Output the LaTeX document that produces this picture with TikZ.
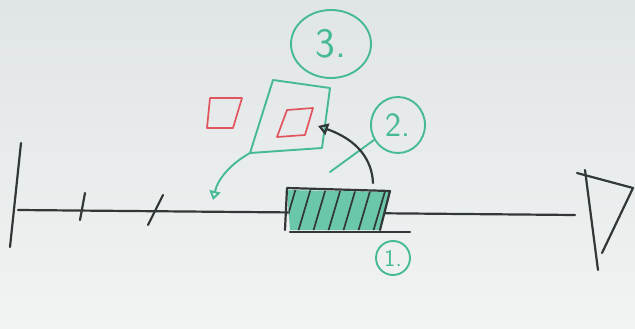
\documentclass[tikz,border=0pt]{standalone}
\usetikzlibrary{shapes.geometric,arrows.meta}
\definecolor{teal1}{RGB}{70,185,150}
\definecolor{redsq}{RGB}{225,85,95}
\definecolor{ink}{RGB}{50,55,55}
\begin{document}
\begin{tikzpicture}[x=1pt,y=-1pt,
  inkline/.style={draw=ink,line width=2.2pt,line cap=round,line join=round},
  tealline/.style={draw=teal1,line width=1.9pt,line cap=round,line join=round},
  redline/.style={draw=redsq,line width=1.7pt,line join=round},
  circ/.style={ellipse,draw=teal1,line width=1.9pt,text=teal1,font=\sffamily,inner sep=0pt}]
\shade[top color={rgb,255:red,224;green,229;blue,229},bottom color={rgb,255:red,242;green,243;blue,243}] (0,0) rectangle (635,329);
\useasboundingbox (0,0) rectangle (635,329);
% main axis
\draw[inkline] (18,210) -- (575,215);
\draw[inkline] (21,143) -- (10,247);
\draw[inkline] (85,193) -- (80,220);
\draw[inkline] (163,195) -- (148,225);
% right flag
\draw[inkline] (585,170) -- (598,270);
\draw[inkline] (577,173) -- (633,188) -- (602,253);
% hatched box
\fill[teal1!80] (287,190) -- (390,192) -- (380,230) -- (290,230) -- cycle;
\begin{scope}
\clip (287,190) -- (390,192) -- (380,230) -- (290,230) -- cycle;
\foreach \x in {283,298,313,328,343,358,373,388}
  \draw[inkline,line width=1.7pt] (\x,232) -- (\x+13,188);
\end{scope}
\draw[inkline] (285,230) -- (287,188) -- (390,191) -- (380,230);
\draw[inkline] (290,232) -- (410,232);
\node[circ,minimum width=34,minimum height=34,font=\sffamily\fontsize{24}{24}\selectfont] (c1) at (393,258) {1.};
% circle 2 and leader
\node[circ,minimum width=54,minimum height=56,font=\sffamily\fontsize{34}{34}\selectfont] (c2) at (398,125) {2.};
\coordinate (l2end) at (330,172);
\draw[tealline] (c2.212) -- (l2end);
% circle 3 and teal box
\node[circ,minimum width=80,minimum height=68,font=\sffamily\fontsize{42}{42}\selectfont] (c3) at (331,44) {3.};
\coordinate (b1) at (273,80);
\coordinate (b2) at (330,88);
\coordinate (b3) at (322,148);
\coordinate (b4) at (250,153);
\draw[tealline] (b1) -- (b2) -- (b3) -- (b4) -- cycle;
\coordinate (tealtip) at (213,200);
\draw[tealline,-{Triangle[open,length=9pt,width=11pt]}] (b4) .. controls (232,163) and (218,178) .. (tealtip);
% red squares
\draw[redline] (210,98) -- (242,98) -- (233,128) -- (207,128) -- cycle;
\draw[redline] (287,110) -- (313,108) -- (305,135) -- (277,137) -- cycle;
% black arrow
\coordinate (bstart) at (373,183);
\coordinate (btip) at (318,126);
\draw[inkline,-{Triangle[open,length=10pt,width=12pt]}] (bstart) .. controls (372,160) and (358,140) .. (btip);
\end{tikzpicture}
\end{document}
